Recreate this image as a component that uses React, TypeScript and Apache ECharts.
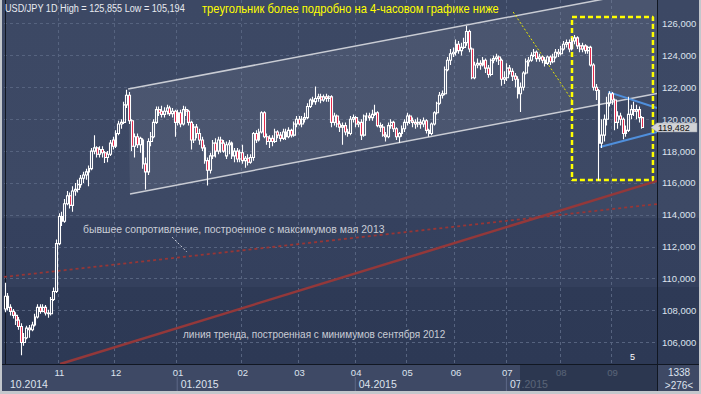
import React, { useEffect, useRef } from "react";
import * as echarts from "echarts";

// ---------- data ----------
const monthLabels = ["10", "11", "12", "01", "02", "03", "04", "05", "06", "07", "08", "09"];
const monthBarCounts = [20, 21, 23, 24, 21, 21, 19, 18, 19, 20, 19, 12];
const emptyBarsRight = 5;
const quarterStarts = [
  { month: 0, label: "10.2014" },
  { month: 3, label: "01.2015" },
  { month: 6, label: "04.2015" },
  { month: 9, label: "07.2015" },
];
const priceMin = 104.652;
const priceMax = 127.473;
const lastPrice = 119.482;
const titleText = "USD/JPY 1D High = 125,855 Low = 105,194";
const noteText = "треугольник более подробно на 4-часовом графике ниже";
const resistanceText = "бывшее сопротивление, построенное с максимумов мая 2013";
const trendText = "линия тренда, построенная с минимумов сентября 2012";
const barsTotalText = "1338";
const barsShownText = ">276<";

// [open, close, low, high]
const candles: number[][] = [
  // Oct 2014
  [108.10, 108.90, 107.90, 109.75], [108.90, 108.20, 108.00, 109.10], [108.20, 107.95, 107.70, 108.40],
  [107.95, 107.70, 107.50, 108.10], [107.70, 107.40, 107.10, 107.90], [107.40, 107.00, 106.80, 107.60],
  [107.00, 106.00, 105.194, 107.20], [106.00, 106.30, 105.80, 106.60], [106.30, 106.90, 106.20, 107.05],
  [106.90, 106.80, 106.30, 107.10], [106.80, 107.10, 106.70, 107.30], [107.10, 107.60, 107.00, 107.80],
  [107.60, 108.20, 107.50, 108.40], [108.20, 107.95, 107.80, 108.40], [107.95, 108.20, 107.90, 108.40],
  [108.20, 107.85, 107.70, 108.35], [107.85, 107.80, 107.55, 108.05], [107.80, 108.70, 107.70, 108.85],
  [108.70, 109.20, 108.60, 109.45], [109.20, 112.20, 109.10, 112.45],
  // Nov
  [112.20, 113.90, 112.10, 114.10], [113.90, 113.60, 113.30, 114.20], [113.60, 114.70, 113.50, 115.00],
  [114.70, 115.20, 114.60, 115.50], [115.20, 114.60, 114.40, 115.40], [114.60, 115.50, 114.20, 115.80],
  [115.50, 115.60, 115.20, 116.00], [115.60, 115.90, 115.40, 116.20], [115.90, 116.30, 115.70, 116.50],
  [116.30, 116.50, 116.00, 116.70], [116.50, 116.70, 116.20, 116.90], [116.70, 116.90, 115.80, 117.10],
  [116.90, 118.00, 116.80, 118.20], [118.00, 118.20, 117.80, 119.00], [118.20, 117.80, 117.60, 118.30],
  [117.80, 118.10, 117.60, 118.30], [118.10, 117.90, 117.60, 118.30], [117.90, 117.60, 117.25, 118.00],
  [117.60, 117.80, 117.30, 118.00], [117.80, 118.50, 117.70, 118.70], [118.70, 118.30, 118.10, 118.90],
  // Dec
  [118.30, 119.10, 118.20, 119.30], [119.10, 119.70, 119.00, 119.90], [119.70, 119.80, 119.40, 120.00],
  [119.80, 120.90, 119.70, 121.10], [120.90, 121.50, 120.70, 121.85], [121.50, 119.90, 119.70, 121.70],
  [119.90, 118.30, 118.00, 120.00], [118.30, 118.90, 117.60, 119.10], [118.90, 118.40, 118.20, 119.10],
  [118.40, 118.80, 117.90, 118.90], [118.70, 117.20, 116.90, 118.80], [117.20, 116.70, 115.60, 117.60],
  [116.70, 118.60, 116.50, 118.80], [118.60, 118.90, 118.30, 119.20], [118.90, 119.80, 118.80, 120.00],
  [119.80, 120.60, 119.70, 120.80], [120.60, 120.40, 120.20, 120.80], [120.50, 120.30, 120.10, 120.85],
  [120.30, 120.50, 120.10, 120.75], [120.50, 120.70, 120.30, 120.90], [120.70, 120.35, 120.20, 120.85],
  [120.35, 120.50, 120.10, 120.70], [120.50, 119.80, 118.90, 120.60],
  // Jan 2015
  [119.80, 120.40, 119.60, 120.60], [120.40, 119.70, 119.50, 120.60], [119.70, 120.60, 119.60, 120.85],
  [120.60, 120.50, 120.20, 120.80], [120.50, 119.80, 119.60, 120.60], [119.80, 118.70, 118.10, 119.90],
  [118.70, 119.50, 118.50, 119.70], [119.50, 119.10, 118.80, 119.70], [119.10, 118.70, 118.40, 119.40],
  [118.70, 118.20, 118.00, 118.90], [118.20, 117.40, 117.20, 118.40], [117.40, 116.80, 115.85, 117.60],
  [116.80, 117.70, 116.60, 117.90], [117.70, 118.50, 117.50, 118.70], [118.50, 118.00, 117.60, 118.80],
  [118.00, 118.70, 117.80, 118.90], [118.70, 118.50, 117.90, 118.90], [118.50, 118.00, 117.90, 118.70],
  [117.70, 118.40, 117.50, 118.60], [118.40, 118.50, 117.80, 118.70], [118.50, 117.70, 117.50, 118.60],
  [117.70, 118.00, 117.30, 118.20], [118.00, 117.50, 117.30, 118.20], [117.50, 117.90, 117.30, 118.10],
  // Feb
  [117.90, 117.40, 117.20, 118.40], [117.40, 117.55, 116.95, 117.70], [117.55, 117.30, 117.10, 117.80],
  [117.30, 117.60, 117.20, 117.80], [117.60, 119.10, 117.40, 119.20], [119.10, 118.70, 118.50, 119.30],
  [118.70, 119.20, 118.60, 119.40], [119.20, 120.40, 119.10, 120.50], [120.40, 118.90, 118.80, 120.50],
  [118.90, 118.60, 118.40, 119.10], [118.60, 118.80, 118.20, 119.00], [118.80, 118.60, 118.30, 119.00],
  [118.60, 119.20, 118.50, 119.40], [119.20, 119.00, 118.80, 119.30], [119.00, 118.80, 118.60, 119.20],
  [118.80, 119.20, 118.70, 119.40], [119.20, 118.90, 118.70, 119.40], [118.90, 119.30, 118.80, 119.50],
  [119.30, 119.00, 118.85, 119.40], [119.00, 119.70, 118.90, 119.85], [119.70, 120.00, 119.50, 120.20],
  // Mar
  [120.00, 119.70, 119.60, 120.20], [119.70, 120.00, 119.50, 120.20], [120.00, 120.10, 119.80, 120.40],
  [120.10, 120.80, 120.00, 121.00], [120.80, 121.20, 120.70, 121.30], [121.20, 121.10, 120.90, 121.40],
  [121.10, 121.30, 120.90, 122.05], [121.30, 121.40, 121.10, 121.60], [121.40, 121.20, 121.00, 121.60],
  [121.20, 121.40, 121.10, 121.55], [121.40, 121.30, 121.10, 121.60], [121.30, 121.40, 121.10, 121.50],
  [121.40, 119.80, 119.50, 121.50], [119.80, 120.20, 119.60, 120.40], [120.20, 119.70, 119.50, 120.30],
  [119.70, 119.50, 119.20, 119.90], [119.50, 119.60, 118.40, 119.80], [119.60, 119.20, 119.00, 119.80],
  [119.20, 119.10, 118.90, 119.40], [119.10, 120.00, 119.00, 120.20], [120.00, 120.10, 119.80, 120.30],
  // Apr
  [120.10, 119.70, 119.50, 120.20], [119.70, 119.80, 119.50, 119.90], [119.80, 119.00, 118.70, 120.00],
  [119.00, 120.20, 118.90, 120.30], [120.20, 120.20, 119.90, 120.40], [120.20, 120.10, 119.90, 120.40],
  [120.10, 120.30, 119.90, 120.60], [120.30, 120.40, 120.20, 120.90], [120.40, 119.60, 119.50, 120.50],
  [119.60, 119.50, 119.20, 119.80], [119.50, 119.00, 118.90, 119.70], [119.00, 118.90, 118.60, 119.20],
  [118.90, 119.60, 118.80, 119.80], [119.60, 119.80, 119.40, 120.00], [119.80, 119.40, 119.20, 119.90],
  [119.40, 118.90, 118.70, 119.50], [118.90, 119.10, 118.50, 119.20], [119.10, 119.40, 118.90, 119.60],
  [119.40, 119.80, 119.20, 120.00],
  // May
  [119.80, 120.20, 119.60, 120.40], [120.20, 119.90, 119.70, 120.30], [119.90, 119.80, 119.50, 120.10],
  [119.80, 119.70, 119.40, 120.00], [119.70, 119.80, 119.50, 120.10], [119.80, 119.70, 119.40, 120.00],
  [119.70, 119.90, 119.50, 120.10], [119.90, 119.30, 119.10, 120.00], [119.30, 119.10, 118.90, 119.40],
  [119.10, 119.70, 119.00, 119.80], [119.70, 120.40, 119.60, 120.50], [120.40, 121.00, 120.30, 121.10],
  [121.00, 121.50, 120.90, 121.70], [121.50, 121.60, 121.30, 121.80], [121.60, 123.10, 121.50, 123.30],
  [123.10, 123.70, 123.00, 123.90], [123.70, 124.10, 123.40, 124.40], [124.10, 124.20, 123.90, 124.50],
  // Jun
  [124.20, 124.70, 124.00, 125.00], [124.70, 124.30, 124.10, 124.90], [124.30, 124.50, 124.00, 124.80],
  [124.50, 124.80, 124.40, 125.10], [124.80, 125.50, 124.60, 125.855], [125.50, 124.40, 124.20, 125.60],
  [124.40, 122.60, 122.50, 124.50], [122.60, 123.40, 122.50, 123.60], [123.40, 123.50, 123.20, 123.80],
  [123.50, 123.40, 123.10, 123.70], [123.40, 123.70, 123.30, 123.90], [123.70, 123.20, 122.90, 123.80],
  [123.20, 122.80, 122.60, 123.40], [122.80, 123.70, 122.70, 123.80], [123.70, 123.80, 123.50, 124.00],
  [123.80, 123.90, 123.60, 124.10], [123.90, 123.70, 123.40, 124.00], [123.70, 122.50, 122.10, 123.80],
  [122.50, 122.60, 122.20, 123.00],
  // Jul
  [122.60, 123.20, 122.40, 123.50], [123.20, 123.00, 122.80, 123.40], [123.00, 122.70, 122.40, 123.20],
  [122.70, 122.50, 122.00, 122.90], [122.50, 121.60, 121.30, 122.70], [121.60, 122.00, 120.45, 122.30],
  [122.00, 122.90, 121.80, 123.00], [122.90, 123.60, 122.80, 123.80], [123.60, 123.70, 123.30, 123.90],
  [123.70, 124.00, 123.60, 124.20], [124.00, 124.20, 123.90, 124.40], [124.20, 123.80, 123.60, 124.30],
  [123.80, 123.90, 123.60, 124.10], [123.90, 123.70, 123.50, 124.00], [123.70, 123.50, 123.30, 123.90],
  [123.50, 123.90, 123.40, 124.00], [123.90, 123.60, 123.40, 124.00], [123.60, 123.90, 123.50, 124.10],
  [123.90, 124.20, 123.80, 124.40], [124.20, 124.10, 123.90, 124.40],
  // Aug
  [124.10, 124.40, 124.00, 124.60], [124.40, 124.70, 124.30, 124.90], [124.70, 124.80, 124.50, 125.00],
  [124.80, 124.40, 124.20, 125.00], [124.40, 124.90, 124.30, 125.10], [124.90, 125.10, 124.70, 125.28],
  [125.10, 124.60, 124.40, 125.20], [124.60, 124.40, 124.20, 124.80], [124.40, 124.60, 124.20, 124.80],
  [124.60, 124.30, 124.10, 124.70], [124.30, 124.50, 124.10, 124.60], [124.50, 123.40, 123.30, 124.60],
  [123.40, 122.00, 121.80, 123.50], [122.00, 121.80, 121.20, 122.20], [121.80, 118.50, 116.15, 121.90],
  [118.50, 119.00, 118.20, 120.00], [119.00, 120.00, 118.60, 120.30], [120.00, 121.00, 119.60, 121.40],
  [121.00, 121.60, 120.80, 121.75],
  // Sep
  [121.60, 121.20, 120.90, 121.70], [121.20, 119.80, 119.30, 121.30], [119.80, 120.20, 119.40, 120.50],
  [120.20, 120.00, 119.60, 120.40], [120.00, 119.10, 118.75, 120.10], [119.10, 119.30, 118.90, 119.60],
  [119.30, 120.30, 119.20, 121.40], [120.30, 120.60, 120.00, 120.90], [120.60, 120.50, 120.20, 121.10],
  [120.50, 120.60, 120.00, 120.90], [120.60, 120.10, 119.80, 120.80], [120.10, 119.48, 119.40, 120.20],
];

// drawn lines, as [bar index, price]
const channelUpper = [[45.5, 121.89], [241.5, 128.16]];
const channelLower = [[46.2, 115.31], [241.5, 121.61]];
const trendSupport = [[20.3, 104.65], [241.5, 116.13]];
const formerResistance = [[-0.5, 110.11], [241.5, 114.68]];
const triangleUpper = [[223.4, 121.71], [241.5, 120.7]];
const triangleLower = [[220.4, 118.26], [241.5, 119.2]];
const focusBox = [[210, 126.41], [240, 126.41], [240, 116.19], [210, 116.19], [210, 126.41]];
const focusPointer = [[188.2, 126.72], [210, 121.2]];
const resistancePointer = [[61.8, 112.61], [67.3, 111.67]];

// ---------- derived ----------
const categories: string[] = [];
const monthStartIdx: number[] = [];
{
  let acc = 0;
  monthBarCounts.forEach((n, m) => {
    monthStartIdx.push(acc);
    for (let k = 0; k < n; k++) categories.push(`${monthLabels[m]}|${m}|${k}`);
    acc += n;
  });
  for (let k = 0; k < emptyBarsRight; k++) categories.push(`|e|${k}`);
}
const labelledStarts = new Set(monthStartIdx.slice(1));
const totalBars = categories.length;

const SANS = "'Liberation Sans', Arial, sans-serif";
const GRID_COLOR = "#56637f";
const TEXT = "#dde3ee";

const lineSeries = (data: number[][], color: string, width: number, type: any, opacity = 1) => ({
  type: "line",
  xAxisIndex: 1,
  yAxisIndex: 0,
  data,
  symbol: "none",
  silent: true,
  clip: true,
  z: 4,
  lineStyle: { color, width, type, opacity },
});

const label = (text: string, x: number, y: number, fill: string, fontSize: number, scaleX = 1, extra: any = {}) => ({
  type: "text",
  x,
  y,
  scaleX,
  z: 60,
  style: { text, fill, fontSize, fontFamily: SANS, verticalAlign: "middle", ...extra },
});

export default function App() {
  const ref = useRef<HTMLDivElement>(null);
  useEffect(() => {
    document.body.style.margin = "0";
    const chart = echarts.init(ref.current!, null, { renderer: "svg", width: 701, height: 394 });
    chart.setOption({
      animation: false,
      backgroundColor: "transparent",
      grid: { left: 4, right: 44, top: 0, bottom: 30, containLabel: false },
      xAxis: [
        {
          type: "category",
          data: categories,
          boundaryGap: true,
          axisLine: { show: true, lineStyle: { color: "#111722", width: 1 } },
          axisTick: { show: false },
          axisLabel: {
            interval: (i: number) => labelledStarts.has(i),
            formatter: (v: string) => v.split("|")[0],
            color: TEXT,
            fontSize: 9.5,
            fontFamily: SANS,
            margin: 3,
          },
          splitLine: {
            show: true,
            interval: (i: number) => labelledStarts.has(i),
            lineStyle: { color: GRID_COLOR, type: [3, 3], width: 1 },
          },
        },
        { type: "value", min: -0.5, max: totalBars - 0.5, show: false },
      ],
      yAxis: {
        type: "value",
        position: "right",
        min: priceMin,
        max: priceMax,
        splitNumber: 11,
        minInterval: 2,
        maxInterval: 2,
        axisLine: { show: true, lineStyle: { color: "#111722", width: 1 } },
        axisTick: { show: false },
        axisLabel: {
          showMinLabel: false,
          showMaxLabel: false,
          formatter: (v: number) => v.toFixed(3).replace(".", ","),
          color: TEXT,
          fontSize: 9.5,
          fontFamily: SANS,
          margin: 5,
        },
        splitLine: {
          show: true,
          showMinLine: false,
          showMaxLine: false,
          lineStyle: { color: GRID_COLOR, type: [3, 3], width: 1 },
        },
      },
      series: [
        {
          type: "custom",
          xAxisIndex: 1,
          yAxisIndex: 0,
          clip: true,
          silent: true,
          z: 1,
          data: [[0]],
          renderItem: (_p: any, api: any) => ({
            type: "polygon",
            shape: {
              points: [channelUpper[0], channelUpper[1], channelLower[1], channelLower[0]].map((p) => api.coord(p)),
            },
            style: { fill: "rgba(255,255,255,0.075)" },
          }),
        },
        lineSeries(formerResistance, "#973636", 1.8, [3, 3]),
        lineSeries(trendSupport, "#93383a", 2.5, "solid"),
        {
          type: "candlestick",
          xAxisIndex: 0,
          yAxisIndex: 0,
          data: candles,
          barWidth: 2.4,
          z: 5,
          silent: true,
          itemStyle: {
            color: "rgba(0,0,0,0)",
            color0: "#e3163c",
            borderColor: "#ffffff",
            borderColor0: "#ffffff",
            borderWidth: 1.1,
          },
        },
        lineSeries(channelUpper, "#c9ccd4", 1.5, "solid"),
        lineSeries(channelLower, "#c9ccd4", 1.5, "solid"),
        lineSeries(triangleUpper, "#4f8fdc", 2, "solid"),
        lineSeries(triangleLower, "#4f8fdc", 2, "solid"),
        lineSeries(focusBox, "#ffff00", 2.5, [5, 3]),
        lineSeries(focusPointer, "#e6e600", 1, [2, 2]),
        lineSeries(resistancePointer, "#c8ccd6", 1, [2, 2]),
      ],
    });

    const px = (i: number) => chart.convertToPixel({ xAxisIndex: 1 }, i) as number;
    const py = (v: number) => chart.convertToPixel({ yAxisIndex: 0 }, v) as number;
    const tagY = py(lastPrice);

    const quarterEls: any[] = [];
    quarterStarts.forEach((q) => {
      const x0 = px(monthStartIdx[q.month] - 0.5);
      quarterEls.push(label(q.label, q.month === 0 ? 10 : x0 + 4, 384, TEXT, 10.5));
      if (q.month > 0) {
        quarterEls.push({
          type: "line",
          z: 60,
          shape: { x1: x0 + 0.5, y1: 377, x2: x0 + 0.5, y2: 391 },
          style: { stroke: "#5d6987", lineWidth: 1 },
        });
      }
    });

    chart.setOption({
      graphic: [
        ...quarterEls,
        // dimmed future part of the time scale
        { type: "rect", z: 70, shape: { x: 520, y: 365, width: 137, height: 26 }, style: { fill: "rgba(38,48,72,0.72)" } },
        // separators
        { type: "line", z: 80, shape: { x1: 657.5, y1: 0, x2: 657.5, y2: 391 }, style: { stroke: "#111722", lineWidth: 1 } },
        { type: "line", z: 80, shape: { x1: 2, y1: 364.5, x2: 699, y2: 364.5 }, style: { stroke: "#111722", lineWidth: 1 } },
        // frame
        { type: "rect", z: 90, shape: { x: 0, y: 0, width: 2, height: 394 }, style: { fill: "#c3c7cc" } },
        { type: "rect", z: 90, shape: { x: 0, y: 391, width: 701, height: 3 }, style: { fill: "#c3c7cc" } },
        { type: "rect", z: 90, shape: { x: 699, y: 0, width: 2, height: 394 }, style: { fill: "#c3c7cc" } },
        // header texts
        label(titleText, 5, 8.5, "#e8ebf1", 11, 0.83),
        label(noteText, 202, 9, "#ffff00", 12, 0.93),
        // annotations
        label(resistanceText, 83, 229, "#c9cdd6", 11, 0.95),
        label(trendText, 183, 334, "#c9cdd6", 11, 0.91),
        label("5", 630, 357, "#ffffff", 9),
        // bar counters
        label(barsTotalText, 679, 372, TEXT, 10, 1, { align: "center" }),
        label(barsShownText, 679, 385, TEXT, 10, 1, { align: "center" }),
        // last price tag
        {
          type: "polygon", z: 85,
          shape: { points: [[651, tagY], [657, tagY - 4.5], [697, tagY - 4.5], [697, tagY + 4.5], [657, tagY + 4.5]] },
          style: { fill: "#d2d3d6", stroke: "#9aa0aa", lineWidth: 0.5 },
        },
        { ...label(lastPrice.toFixed(3).replace(".", ","), 658, tagY + 0.8, "#111111", 9), z: 86 },
      ],
    });
    return () => chart.dispose();
  }, []);

  return (
    <div
      ref={ref}
      style={{
        width: 701,
        height: 394,
        background:
          "linear-gradient(to bottom, #3c4864 0px, #3d4965 218px, #35415e 218px, #34405d 287px, #2e3a56 287px, #2d3955 364px, #3e4965 364px, #3e4965 391px, #c3c7cc 391px)",
      }}
    />
  );
}
